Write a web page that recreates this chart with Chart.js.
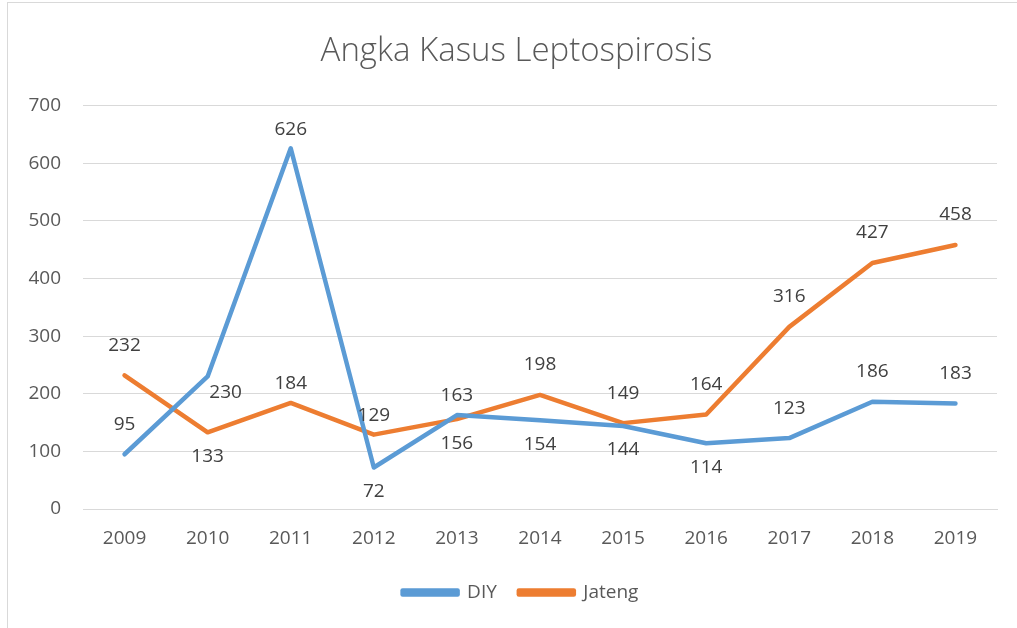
<!DOCTYPE html>
<html>
<head>
<meta charset="utf-8">
<script src="https://cdn.jsdelivr.net/npm/chart.js@4/dist/chart.umd.min.js"></script>
<style>
    html, body { margin: 0; padding: 0; background: #fff; }
    #wrap { position: absolute; left: 7px; top: 2px; width: 1030px; height: 640px; border: 1px solid #d9d9d9; }
    #c { position: absolute; left: 0; top: 0; }
</style>
</head>
<body>
<div id="wrap"></div>
<canvas id="c" width="1017" height="628"></canvas>
<script>
// data
var years = ["2009", "2010", "2011", "2012", "2013", "2014", "2015", "2016", "2017", "2018", "2019"];
var diy = [95, 230, 626, 72, 163, 154, 144, 114, 123, 186, 183];
var jateng = [232, 133, 184, 129, 156, 198, 149, 164, 316, 427, 458];
var yTicks = [0, 100, 200, 300, 400, 500, 600, 700];

// where each data label sits (Excel put them by hand)
var diyLabelPos = ["above", "right", "near", "below", "near", "below", "below", "below", "above", "above", "above"];
var jatengLabelPos = ["above", "below", "near", "near", "below", "above", "above", "above", "above", "above", "above"];

var fontName = "'Open Sans', 'Noto Sans', sans-serif";

// simple data label plugin
var dataLabels = {
    id: "dataLabels",
    afterDatasetsDraw: function (chart) {
        var ctx = chart.ctx;
        ctx.save();
        ctx.font = "19px " + fontName;
        ctx.fillStyle = "#404040";
        ctx.textAlign = "center";
        ctx.textBaseline = "middle";
        chart.data.datasets.forEach(function (ds, i) {
            var meta = chart.getDatasetMeta(i);
            meta.data.forEach(function (pt, j) {
                var pos = ds.labelPos[j];
                var dx = 0, dy = -30;
                if (pos === "near") dy = -19;
                if (pos === "below") dy = 24;
                if (pos === "right") { dx = 18; dy = 16; }
                ctx.fillText(ds.data[j], pt.x + dx, pt.y + dy);
            });
        });
        ctx.restore();
    }
};

// title and legend sit a bit right of the canvas centre in the original
var shiftBlocks = {
    id: "shiftBlocks",
    afterLayout: function (chart) {
        if (chart.titleBlock) { chart.titleBlock.left += 14; chart.titleBlock.right += 14; }
        if (chart.legend) { chart.legend.left += 18; chart.legend.right += 18; }
    }
};

var ctx = document.getElementById("c").getContext("2d");
var chart = new Chart(ctx, {
    type: "line",
    data: {
        labels: years,
        datasets: [{
            label: "DIY",
            data: diy,
            labelPos: diyLabelPos,
            borderColor: "#5B9BD5",
            backgroundColor: "#5B9BD5",
            borderWidth: 4.5,
            pointRadius: 0,
            tension: 0,
            borderCapStyle: "round",
            borderJoinStyle: "round"
        }, {
            label: "Jateng",
            data: jateng,
            labelPos: jatengLabelPos,
            borderColor: "#ED7D31",
            backgroundColor: "#ED7D31",
            borderWidth: 4.5,
            pointRadius: 0,
            tension: 0,
            borderCapStyle: "round",
            borderJoinStyle: "round"
        }]
    },
    options: {
        responsive: false,
        animation: false,
        layout: {
            padding: { left: 8, right: 20, top: 0, bottom: 16 }
        },
        plugins: {
            title: {
                display: true,
                text: "Angka Kasus Leptospirosis",
                color: "#595959",
                font: { family: fontName, size: 33, weight: "300" },
                padding: { top: 32, bottom: 34 }
            },
            legend: {
                position: "bottom",
                labels: {
                    boxWidth: 55,
                    boxHeight: 4,
                    color: "#595959",
                    font: { family: fontName, size: 19 },
                    padding: 22
                }
            },
            tooltip: { enabled: false }
        },
        scales: {
            x: {
                offset: true,
                afterFit: function (axis) { axis.height = 52; },
                grid: { display: false },
                border: { display: true, color: "#d9d9d9" },
                ticks: {
                    color: "#595959",
                    font: { family: fontName, size: 19 },
                    padding: 10
                }
            },
            y: {
                min: 0,
                max: 700,
                afterBuildTicks: function (axis) {
                    axis.ticks = yTicks.map(function (v) { return { value: v }; });
                },
                afterFit: function (axis) { axis.width = 75; },
                grid: { color: "#d9d9d9", lineWidth: 1, drawTicks: false },
                border: { display: false },
                ticks: {
                    color: "#595959",
                    font: { family: fontName, size: 19 },
                    padding: 22
                }
            }
        }
    },
    plugins: [dataLabels, shiftBlocks]
});
</script>
</body>
</html>
